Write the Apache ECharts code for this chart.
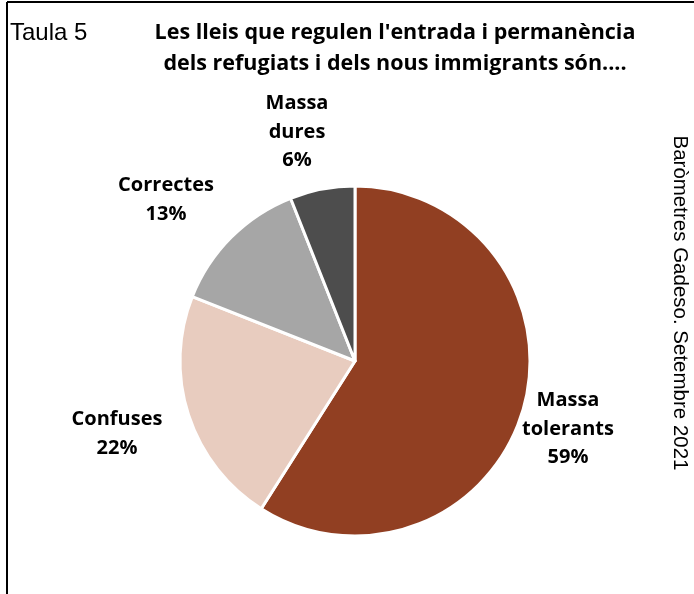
<!DOCTYPE html>
<html><head><meta charset="utf-8">
<script src="https://cdn.jsdelivr.net/npm/echarts@6/dist/echarts.min.js"></script>
<style>html,body{margin:0;padding:0;background:#fff}#c{width:694px;height:594px}</style>
</head><body><div id="c"></div>
<script>
var categories = ['Massa tolerants', 'Confuses', 'Correctes', 'Massa dures'];
var labelTexts = ['Massa\ntolerants', 'Confuses', 'Correctes', 'Massa\ndures'];
var values = [59, 22, 13, 6];
var colors = ['#913F22', '#E8CCBF', '#A6A6A6', '#4D4D4D'];
var labelPos = [[568, 429], [117, 434], [166, 200], [297, 132]];

var chart = echarts.init(document.getElementById('c'));
chart.setOption({
  animation: false,
  backgroundColor: '#fff',
  graphic: [
    {type: 'line', shape: {x1: 7, y1: 2, x2: 694, y2: 2}, style: {stroke: '#000', lineWidth: 2}},
    {type: 'line', shape: {x1: 7, y1: 2, x2: 7, y2: 594}, style: {stroke: '#000', lineWidth: 2}},
    {type: 'text', x: 10, y: 33, style: {text: 'Taula 5', font: '24px "Liberation Sans"', fill: '#000', verticalAlign: 'middle'}},
    {type: 'text', x: 395, y: 48, style: {text: "Les lleis que regulen l'entrada i permanència\ndels refugiats i dels nous immigrants són....", font: 'bold 21.5px "Open Sans"', fill: '#000', align: 'center', verticalAlign: 'middle', lineHeight: 31}},
    {type: 'text', x: 680, y: 303, rotation: -Math.PI / 2, style: {text: 'Baròmetres Gadeso. Setembre 2021', font: '20.5px "Liberation Sans"', fill: '#000', align: 'center', verticalAlign: 'middle'}}
  ],
  series: [{
    type: 'pie',
    center: [355, 361],
    radius: 175,
    startAngle: 90,
    clockwise: true,
    data: categories.map(function (c, i) {
      return {name: c, value: values[i], itemStyle: {color: colors[i]}};
    }),
    itemStyle: {borderColor: '#fff', borderWidth: 3},
    label: {
      show: true,
      position: 'outside',
      formatter: function (p) { return labelTexts[p.dataIndex] + '\n' + p.value + '%'; },
      fontFamily: 'Open Sans',
      fontWeight: 'bold',
      fontSize: 20,
      lineHeight: 28.5,
      color: '#000',
      align: 'center'
    },
    labelLine: {show: false},
    labelLayout: function (p) {
      var pos = labelPos[p.dataIndex];
      return {x: pos[0], y: pos[1], align: 'center', verticalAlign: 'middle'};
    }
  }]
});
</script></body></html>
